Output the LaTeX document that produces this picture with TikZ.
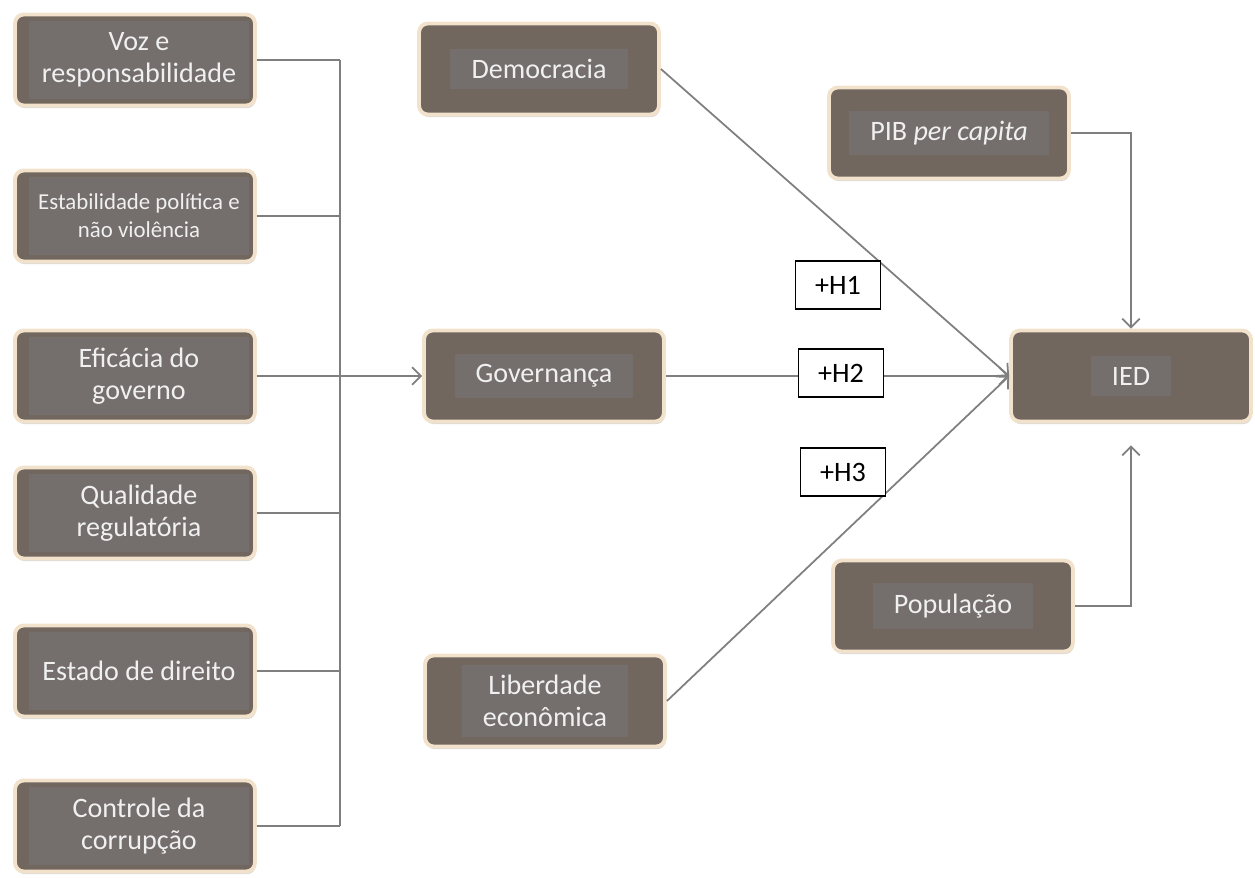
\documentclass[tikz,border=0pt]{standalone}
\usepackage{fontspec}
\setmainfont{Carlito}
\usetikzlibrary{arrows.meta,shadows}

\definecolor{boxfill}{HTML}{71675F}
\definecolor{boxinner}{HTML}{746E6D}
\definecolor{boxrim}{HTML}{F2E2CB}
\definecolor{linegray}{HTML}{7F7F7F}

\tikzset{
  boxshape/.style={draw=boxrim, line width=2.2pt, fill=boxfill, rounded corners=5pt,
    minimum width=4.8cm, minimum height=1.82cm,
    drop shadow={opacity=0.3, shadow xshift=0.5pt, shadow yshift=-1.5pt}},
  box/.style={boxshape, label={[boxtext]center:#1}},
  leftbox/.style={boxshape, label={[boxtext, fullinner]center:#1}},
  leftsmall/.style={boxshape, label={[boxtext, fullinner, font=\fontsize{13}{16}\selectfont]center:#1}},
  boxtext/.style={fill=boxinner, text=white!94!black, align=center,
    inner xsep=12pt, inner ysep=6pt, font=\fontsize{16}{18}\selectfont},
  fullinner/.style={minimum width=4.4cm, minimum height=1.55cm, inner xsep=3pt, xshift=0.08cm},
  hyp/.style={draw=black, fill=white, line width=0.6pt, minimum width=1.7cm,
    minimum height=0.96cm, font=\fontsize{16}{18}\selectfont},
  conn/.style={draw=linegray, line width=1pt},
  arr/.style={conn, -{Straight Barb[length=5pt,width=10pt]}}
}

\begin{document}
\begin{tikzpicture}[x=0.02cm, y=-0.02cm]
    \useasboundingbox (0,0) rectangle (1255,878);

    % indicadores de governanca
    \node[leftbox={Voz e\\responsabilidade}] (voz) at (135,60) {};
    \node[leftsmall={Estabilidade política e\\não violência}] (est) at (135,216) {};
    \node[leftbox={Eficácia do\\governo}] (efi) at (135,376) {};
    \node[leftbox={Qualidade\\regulatória}] (qual) at (135,513) {};
    \node[leftbox={Estado de direito}] (estd) at (135,671) {};
    \node[leftbox={Controle da\\corrupção}] (ctrl) at (135,826) {};

    \node[box={Democracia}] (dem) at (539,69) {};
    \node[box={Governança}] (gov) at (544,376) {};
    \node[box={Liberdade\\econômica}] (lib) at (545,701) {};

    \node[box={PIB \textit{per capita}}] (pib) at (949,133) {};
    \node[box={IED}] (ied) at (1131,376) {};
    \node[box={População}] (pop) at (953,606) {};

    \coordinate (bus) at (340,0);
    \foreach \n in {voz,est,efi,qual,estd,ctrl}
        \draw[conn] (\n.east) -- (\n.east -| bus);
    \draw[conn] (voz.east -| bus) -- (ctrl.east -| bus);
    \draw[arr] (efi.east -| bus) -- (gov.west);

    \draw[arr] (dem.east) -- (ied.west);
    \draw[arr] (gov.east) -- (ied.west);
    \draw[arr] (lib.east) -- (ied.west);
    \draw[arr] (pib.east) -| (ied.north);
    \draw[arr, shorten >=0.44cm] (pop.east) -| (ied.south);

    \node[hyp] (h1) at (838,285) {+H1};
    \node[hyp] (h2) at (841,373) {+H2};
    \node[hyp] (h3) at (843,472) {+H3};
\end{tikzpicture}
\end{document}
